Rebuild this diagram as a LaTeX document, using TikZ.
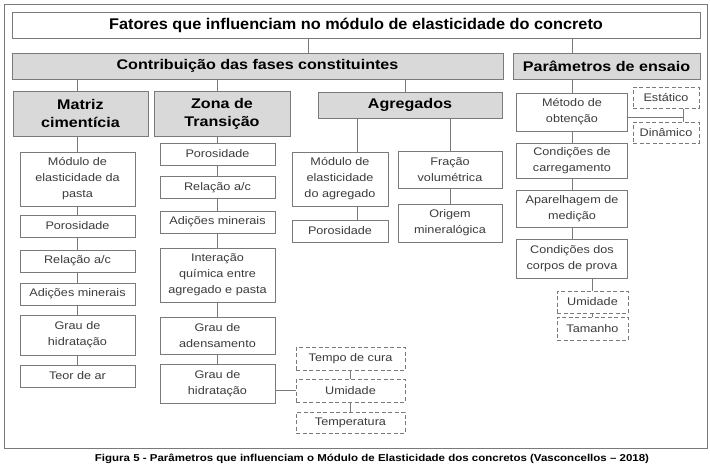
\documentclass[tikz,border=0pt]{standalone}
\usepackage{fontspec}
\setmainfont{Liberation Sans}[FakeStretch=1.15]
\newfontfamily\titlefont{Liberation Sans}[FakeStretch=1.05]
\usetikzlibrary{positioning}
\definecolor{linegray}{HTML}{7A7A7A}
\definecolor{headgray}{HTML}{D9D9D9}
\definecolor{textgray}{HTML}{3C3C3C}

\begin{document}
\begin{tikzpicture}[x=1pt,y=-1pt,line width=1pt,draw=linegray,inner sep=0pt,
		font=\fontsize{11}{16}\selectfont]
		\tikzstyle{title}=[draw=linegray,fill=white,text=black,font=\bfseries\fontsize{14}{18}\selectfont,align=center]
		\tikzstyle{head}=[title,fill=headgray]
		\tikzstyle{box}=[draw=linegray,fill=white,text=textgray,align=center,minimum width=115pt]
		\tikzstyle{dbox}=[box,dash pattern=on 4pt off 2.5pt]
		\tikzstyle{link}=[draw=linegray]
		
		\useasboundingbox (0,0) rectangle (710,469);
		\draw[linegray] (4,4) rectangle (707,448);
		
		% topo
		\node[title, minimum width=688pt, minimum height=26pt,
			font=\titlefont\bfseries\fontsize{15.5}{18}\selectfont] (top) 	at (356,25) 	{Fatores que influenciam no módulo de elasticidade do concreto};
		\node[head, minimum width=491pt, minimum height=26pt] 	(fases) 	at (257.5,66) 	{Contribuição das fases constituintes};
		\node[head, minimum width=187pt, minimum height=26pt] 	(ensaio) 	at (606.5,66) 	{Parâmetros de ensaio};
		\node[head, minimum width=135pt, minimum height=45pt] 	(matriz) 	at (80.5,113.5) {Matriz\\cimentícia};
		\node[head, minimum width=136pt, minimum height=45pt] 	(zona) 		at (222,113.5) 	{Zona de\\Transição};
		\node[head, minimum width=184pt, minimum height=26pt] 	(agreg) 	at (410,105) 	{Agregados};
		
		% matriz cimenticia
		\node[box, minimum height=54pt] (m1) at (77.5,179) 	{Módulo de\\elasticidade da\\pasta};
		\node[box, minimum height=22pt] (m2) at (77.5,226) 	{Porosidade};
		\node[box, minimum height=22pt] (m3) at (77.5,261) 	{Relação a/c};
		\node[box, minimum height=22pt] (m4) at (77.5,294) 	{Adições minerais};
		\node[box, minimum height=40pt] (m5) at (77.5,335) 	{Grau de\\hidratação};
		\node[box, minimum height=22pt] (m6) at (77.5,376) 	{Teor de ar};
		
		% zona de transicao
		\node[box, minimum height=22pt] (z1) at (217.5,154) 	{Porosidade};
		\node[box, minimum height=22pt] (z2) at (217.5,187.5) 	{Relação a/c};
		\node[box, minimum height=22pt] (z3) at (217.5,222) 	{Adições minerais};
		\node[box, minimum height=54pt] (z4) at (217.5,275) 	{Interação\\química entre\\agregado e pasta};
		\node[box, minimum height=37pt] (z5) at (217.5,335.5) 	{Grau de\\adensamento};
		\node[box, minimum height=39pt] (z6) at (217.5,383.5) 	{Grau de\\hidratação};
		\node[dbox, minimum width=109pt, minimum height=23pt] (c1) at (350.5,358.5) {Tempo de cura};
		\node[dbox, minimum width=109pt, minimum height=23pt] (c2) at (350.5,390.5) {Umidade};
		\node[dbox, minimum width=109pt, minimum height=21pt] (c3) at (350.5,422.5) {Temperatura};
		
		% agregados
		\node[box, minimum width=96pt, minimum height=54pt] 	(a1) at (340,179) 	{Módulo de\\elasticidade\\do agregado};
		\node[box, minimum width=96pt, minimum height=22pt] 	(a2) at (340,231) 	{Porosidade};
		\node[box, minimum width=104pt, minimum height=37pt] 	(a3) at (450,169.5) {Fração\\volumétrica};
		\node[box, minimum width=104pt, minimum height=38pt] 	(a4) at (450,223) 	{Origem\\mineralógica};
		
		% parametros de ensaio
		\node[box, minimum width=111pt, minimum height=38pt] 	(p1) at (572,112) 	{Método de\\obtenção};
		\node[box, minimum width=111pt, minimum height=35pt] 	(p2) at (572,160.5) {Condições de\\carregamento};
		\node[box, minimum width=111pt, minimum height=37pt] 	(p3) at (572,208.5) {Aparelhagem de\\medição};
		\node[box, minimum width=111pt, minimum height=39pt] 	(p4) at (572,258.5) {Condições dos\\corpos de prova};
		\node[dbox, minimum width=66pt, minimum height=21pt] 	(e1) at (666,97.5) 	{Estático};
		\node[dbox, minimum width=66pt, minimum height=21pt] 	(e2) at (666,132.5) {Dinâmico};
		\node[dbox, minimum width=71pt, minimum height=22pt] 	(u1) at (592.5,302) {Umidade};
		\node[dbox, minimum width=71pt, minimum height=23pt] 	(u2) at (592.5,328.5) {Tamanho};
		
		\node[text=black, font=\bfseries\fontsize{10}{12}\selectfont] (legenda) at (372,459)
			{Figura 5 - Parâmetros que influenciam o Módulo de Elasticidade dos concretos (Vasconcellos -- 2018)};
		
		\coordinate (j1) at (308,0);
		\coordinate (j2) at (405,0);
		\coordinate (j3) at (357,0);
		\coordinate (ej) at (683,117);
		
		\path[link] (top.south -| j1) 		edge (fases.north -| j1)
				(top.south -| p1.north) 	edge (ensaio.north -| p1.north)
				(fases.south -| m1.north) 	edge (matriz.north -| m1.north)
				(fases.south -| z1.north) 	edge (zona.north -| z1.north)
				(fases.south -| j2) 		edge (agreg.north -| j2)
				(matriz.south -| m1.north) 	edge (m1.north)
				(m1) edge (m2) (m2) edge (m3) (m3) edge (m4) (m4) edge (m5) (m5) edge (m6)
				(zona.south -| z1.north) 	edge (z1.north)
				(z1) edge (z2) (z2) edge (z3) (z3) edge (z4) (z4) edge (z5) (z5) edge (z6)
				(z6.east |- c2.west) 		edge (c2.west)
				(c1) edge (c2) (c2) edge (c3)
				(agreg.south -| j3) 		edge (a1.north -| j3)
				(a1.south -| j3) 			edge (a2.north -| j3)
				(agreg.south -| a3.north) 	edge (a3.north)
				(a3) edge (a4)
				(ensaio.south -| p1.north) 	edge (p1.north)
				(p1) edge (p2) (p2) edge (p3) (p3) edge (p4)
				(p1.east |- ej) 			edge (ej)
				(e1.south -| ej) 			edge (e2.north -| ej)
				(p4.south -| u1.north) 		edge (u1.north)
				(u1) edge (u2);
\end{tikzpicture}
\end{document}
